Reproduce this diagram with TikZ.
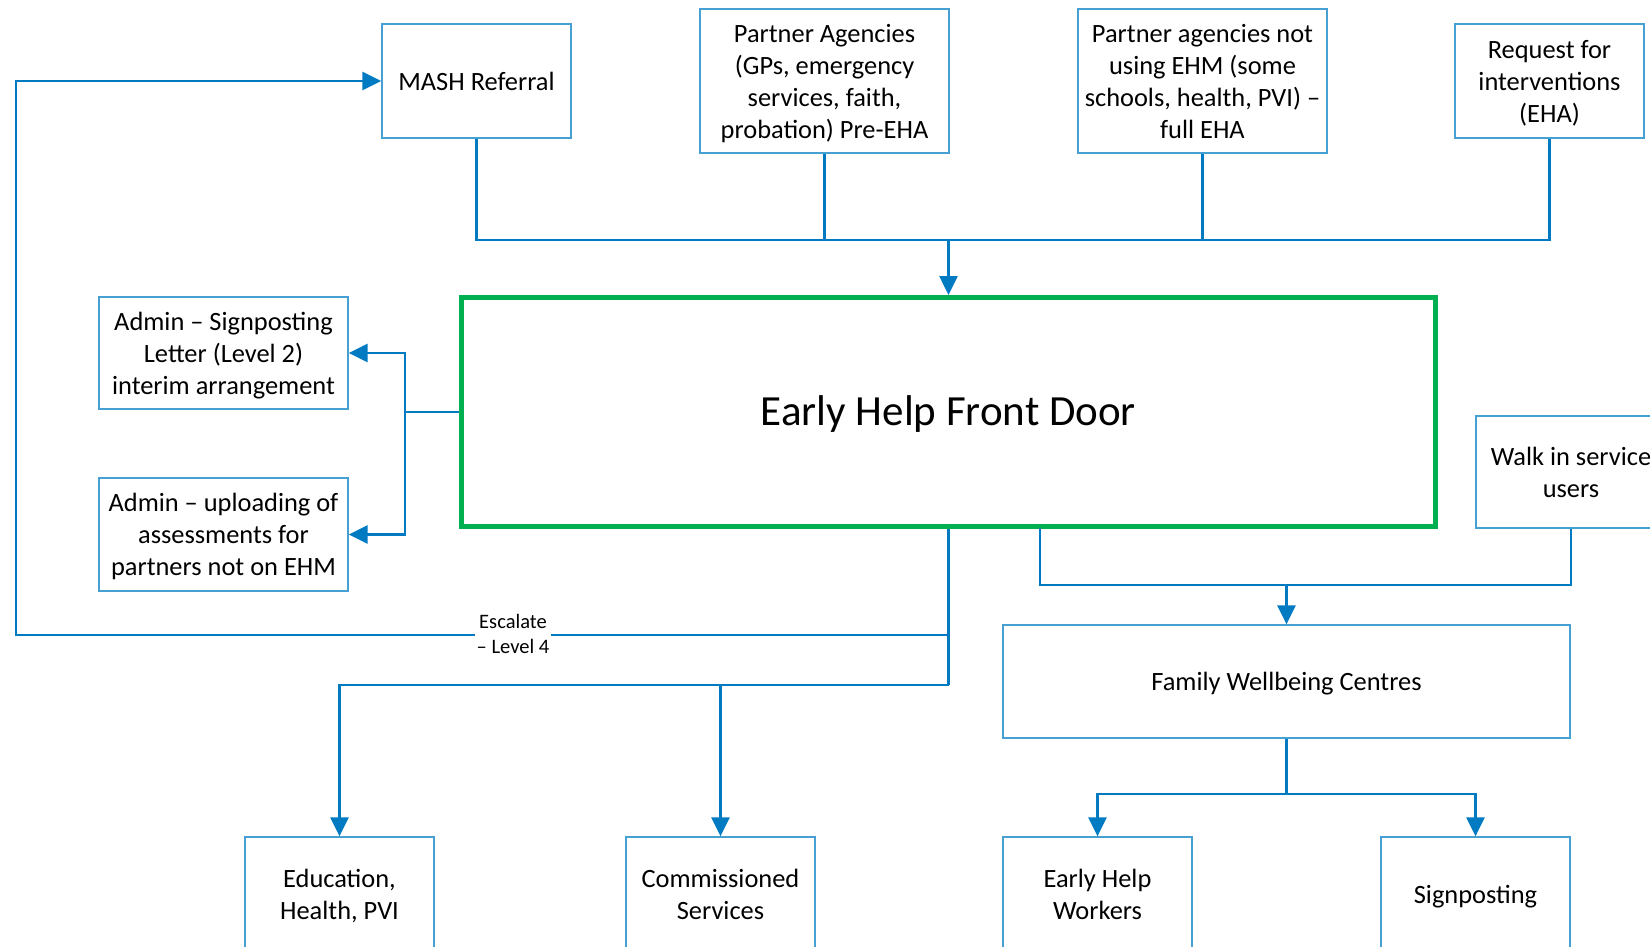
\documentclass[tikz,border=0pt]{standalone}
\usepackage{fontspec}
\setmainfont{Carlito}
\usetikzlibrary{arrows.meta}
\definecolor{lineblue}{RGB}{0,122,193}
\definecolor{boxblue}{RGB}{70,160,210}
\definecolor{ehgreen}{RGB}{0,176,80}
\newcommand\bxt[1]{\raisebox{-3pt}[\height][\depth]{\begin{tabular}{@{}c@{}}#1\end{tabular}}}
\begin{document}
\begin{tikzpicture}[x=1pt,y=-1pt,
  box/.style={draw=boxblue,line width=1.3pt,fill=white,inner sep=0pt,
    font=\fontsize{26.4}{32}\selectfont},
  conn/.style={draw=lineblue,line width=2.6pt},
  arr/.style={conn,-{Triangle[length=19pt,width=18pt]}},
  esclab/.style={fill=white,align=center,inner sep=2pt,font=\fontsize{20.5}{25.5}\selectfont}
]
\useasboundingbox (0,0) rectangle (1650,947);
\clip (0,0) rectangle (1650,947);
% top boxes
\node[box,minimum width=189,minimum height=114] (mash) at (476.5,81) {\bxt{MASH Referral}};
\node[box,minimum width=249,minimum height=144] (pa) at (824.5,81) {\bxt{Partner Agencies\\(GPs, emergency\\services, faith,\\probation) Pre-EHA}};
\node[box,minimum width=249,minimum height=144] (pn) at (1202.5,81) {\bxt{Partner agencies not\\using EHM (some\\schools, health, PVI) --\\full EHA}};
\node[box,minimum width=189,minimum height=114] (req) at (1549.5,81) {\bxt{Request for\\interventions\\(EHA)}};
% main box
\node[draw=ehgreen,line width=5pt,minimum width=974,minimum height=229,inner sep=0pt,
  font=\fontsize{43}{50}\selectfont] (ehfd) at (948.5,412) {\bxt{Early Help Front Door}};
% left admin boxes
\node[box,minimum width=249,minimum height=112] (adm1) at (223.5,353) {\bxt{Admin -- Signposting\\Letter (Level 2)\\interim arrangement}};
\node[box,minimum width=249,minimum height=113] (adm2) at (223.5,534.5) {\bxt{Admin -- uploading of\\assessments for\\partners not on EHM}};
% walk in
\node[box,minimum width=190,minimum height=112] (walk) at (1571,472) {\bxt{Walk in service\\users}};
% family wellbeing
\node[box,minimum width=567,minimum height=113] (fwc) at (1286.5,681.5) {\bxt{Family Wellbeing Centres}};
% bottom boxes
\node[box,minimum width=189,minimum height=114] (edu) at (339.5,894) {\bxt{Education,\\Health, PVI}};
\node[box,minimum width=189,minimum height=114] (comm) at (720.5,894) {\bxt{Commissioned\\Services}};
\node[box,minimum width=189,minimum height=114] (ehw) at (1097.5,894) {\bxt{Early Help\\Workers}};
\node[box,minimum width=189,minimum height=114] (sign) at (1475.5,894) {\bxt{Signposting}};
% coordinates
\coordinate (bus) at (948.5,240);
\coordinate (lb) at (405,412);
\coordinate (esc) at (948.5,635);
\coordinate (escL) at (16,635);
\coordinate (split) at (948.5,685);
\coordinate (ehb) at (1040,528);
\coordinate (fwbus) at (1286.5,585);
\coordinate (fwsplit) at (1286.5,794);
% top connectors
\draw[conn] (mash.south) |- (bus);
\draw[conn] (req.south) |- (bus);
\draw[conn] (pa.south) -- (pa.south |- bus);
\draw[conn] (pn.south) -- (pn.south |- bus);
\draw[arr] (bus) -- (ehfd.north);
% left bracket
\draw[conn] (ehfd.west) -- (lb);
\draw[arr] (lb) |- (adm1.east);
\draw[arr] (lb) |- (adm2.east);
% escalate
\draw[arr] (esc) -- (escL) |- (mash.west);
\node[esclab] (escl) at (513,634) {Escalate\\-- Level 4};
% down to bottom left
\draw[conn] (ehfd.south) -- (split);
\draw[arr] (split) -| (edu.north);
\draw[arr] (comm.north |- split) -- (comm.north);
% to family wellbeing
\draw[conn] (ehb) |- (walk.south |- fwbus) -- (walk.south);
\draw[arr] (fwbus) -- (fwc.north);
% family wellbeing down
\draw[conn] (fwc.south) -- (fwsplit);
\draw[arr] (fwsplit) -| (ehw.north);
\draw[arr] (fwsplit) -| (sign.north);
\end{tikzpicture}
\end{document}
